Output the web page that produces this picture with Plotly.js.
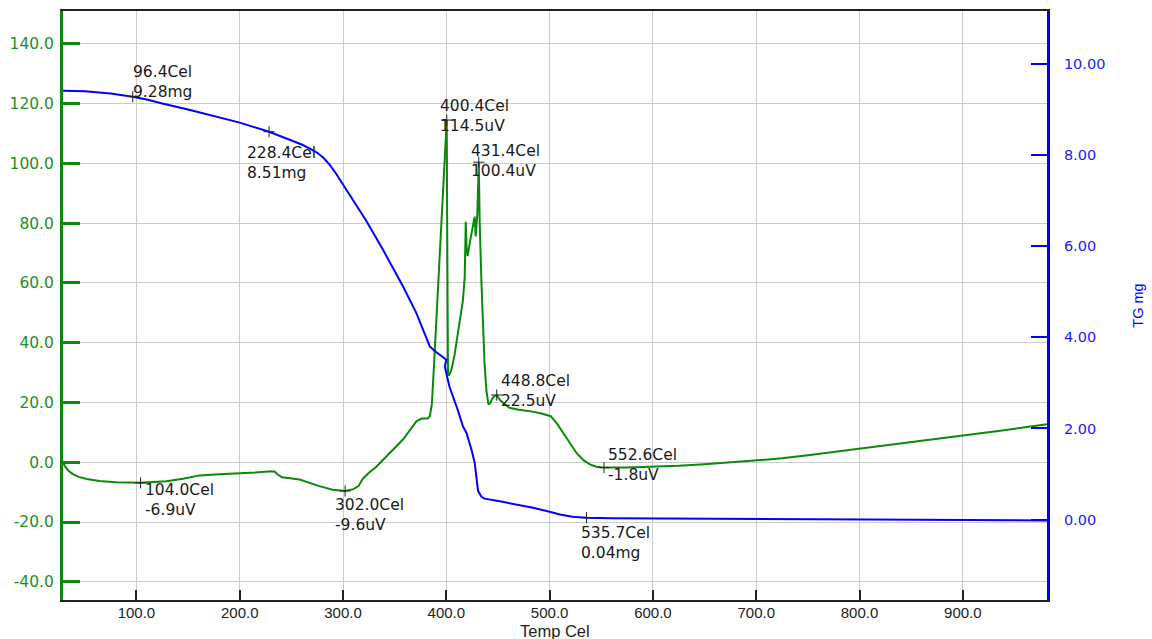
<!DOCTYPE html>
<html>
<head>
<meta charset="utf-8">
<script src="https://cdn.plot.ly/plotly-3.0.1.min.js"></script>
<style>
  html, body { margin: 0; padding: 0; background: #ffffff; }
  #chart { width: 1152px; height: 639px; }
</style>
</head>
<body>
<div id="chart"></div>
<script>
// DTA signal (uV) against furnace temperature (Cel)
const dtaTemp = [28.9, 31, 34, 38, 44, 52, 64, 80, 104.0, 129, 145, 161, 180, 200, 215, 230.7, 234, 237, 241, 258, 277, 290, 302.0, 310, 315, 319, 325, 332, 345, 358, 366, 371, 376, 382, 384, 386, 388, 390, 395, 398, 400.4, 400.8, 401.2, 401.6, 402.5, 405, 408, 411, 416, 417.8, 418.8, 419.6, 420.6, 423, 426, 427.4, 428.4, 429.2, 430, 431.4, 432.3, 434, 435.5, 437, 438.8, 440.8, 442.5, 445.2, 448.8, 452, 455, 461, 470, 481, 492, 501, 507, 513, 520, 526, 533, 539, 545, 552.6, 575, 600, 625, 650, 675, 700, 725, 750, 775, 800, 825, 850, 875, 900, 940, 981.5];
const dtaUV   = [0.0, -1.5, -2.8, -3.9, -4.9, -5.6, -6.3, -6.7, -6.9, -6.4, -5.5, -4.4, -4.0, -3.8, -3.4, -3.0, -3.2, -4.2, -5.0, -5.8, -8.0, -9.2, -9.6, -9.0, -8.0, -5.6, -3.5, -1.6, 3.0, 7.6, 11.3, 13.7, 14.6, 14.6, 15.4, 19.5, 32.0, 46.0, 79.0, 99.0, 114.5, 80.0, 50.0, 29.5, 29.0, 31.0, 36.0, 43.0, 54.0, 62.0, 80.5, 72.0, 69.0, 74.0, 80.0, 82.2, 75.6, 79.0, 83.0, 100.4, 80.0, 60.0, 46.0, 33.0, 24.0, 19.3, 19.8, 21.8, 22.5, 20.8, 19.9, 18.2, 17.6, 17.1, 16.3, 15.4, 13.0, 9.8, 6.0, 3.1, 0.6, -0.7, -1.5, -1.8, -1.8, -1.6, -1.2, -0.7, -0.1, 0.5, 1.3, 2.3, 3.4, 4.5, 5.5, 6.6, 7.7, 8.8, 10.7, 12.7];

// TG mass (mg) against furnace temperature (Cel)
const tgTemp = [28.9, 50, 75, 90, 96.4, 110, 125, 150, 175, 200, 228.4, 250, 260, 268, 275, 281, 287, 293, 300, 310, 322.6, 338.7, 358, 371, 384, 388.8, 394, 400, 398.5, 403, 411, 416, 419.5, 424.3, 427.5, 428.5, 430.7, 434, 437, 451.7, 470, 484, 500, 510, 522, 535.7, 560, 600, 700, 800, 900, 981.5];
const tgMg   = [9.41, 9.40, 9.35, 9.31, 9.28, 9.22, 9.13, 9.00, 8.86, 8.71, 8.51, 8.33, 8.23, 8.14, 8.05, 7.94, 7.79, 7.60, 7.35, 7.01, 6.55, 5.92, 5.12, 4.53, 3.80, 3.70, 3.62, 3.51, 3.36, 2.92, 2.41, 2.05, 1.90, 1.54, 1.24, 1.02, 0.63, 0.50, 0.46, 0.40, 0.32, 0.26, 0.17, 0.11, 0.06, 0.04, 0.03, 0.025, 0.02, 0.0, -0.01, -0.02];

// Picked DTA points
const dtaPickTemp = [104.0, 302.0, 400.4, 431.4, 448.8, 552.6];
const dtaPickUV   = [-6.9, -9.6, 114.5, 100.4, 22.5, -1.8];

// Picked TG points
const tgPickTemp = [96.4, 228.4, 535.7];
const tgPickMg   = [9.28, 8.51, 0.04];

// Axis tick values
const xTicks   = [100, 200, 300, 400, 500, 600, 700, 800, 900];
const dtaTicks = [-40, -20, 0, 20, 40, 60, 80, 100, 120, 140];
const tgTicks  = [0, 2, 4, 6, 8, 10];

// Label placement: pixel offset (dx, dy) of each two-line label's centre from its point
const dtaLabelOffset = [[2.5, 17.5], [-12, 24.5], [-9, -4.5], [-10, -1.5], [2, -4.5], [2.5, -3]];
const tgLabelOffset  = [[-2, -14.5], [-24, 31], [-8, 25.5]];

const GREEN = '#0a8a0a';
const GREEN_TXT = '#1f8f1f';
const BLUE = '#0000ff';
const BLUE_TXT = '#1a1aff';
const LABEL_FONT = { family: 'DejaVu Sans, Verdana, sans-serif', size: 15.5, color: '#1a1a1a' };
const AXIS_FONT = 'Liberation Sans, Arial, sans-serif';

const traces = [
  {
    x: dtaTemp, y: dtaUV, type: 'scatter', mode: 'lines',
    line: { color: GREEN, width: 2 }, yaxis: 'y', hoverinfo: 'skip'
  },
  {
    x: tgTemp, y: tgMg, type: 'scatter', mode: 'lines',
    line: { color: BLUE, width: 2 }, yaxis: 'y2', hoverinfo: 'skip'
  },
  {
    x: dtaPickTemp, y: dtaPickUV, type: 'scatter', mode: 'markers', yaxis: 'y',
    marker: { symbol: 'cross-thin', size: 8, line: { color: '#222', width: 1 } }, hoverinfo: 'skip'
  },
  {
    x: tgPickTemp, y: tgPickMg, type: 'scatter', mode: 'markers', yaxis: 'y2',
    marker: { symbol: 'cross-thin', size: 8, line: { color: '#222', width: 1 } }, hoverinfo: 'skip'
  }
];

const annotations = [];
function addLabel(t, v, unit, digits, yref, off) {
  annotations.push({
    x: t, y: v, xref: 'x', yref: yref,
    text: t.toFixed(1) + 'Cel<br>' + v.toFixed(digits) + unit,
    showarrow: false, align: 'left',
    xanchor: 'left', yanchor: 'middle',
    xshift: off[0], yshift: -off[1],
    font: LABEL_FONT
  });
}
dtaPickTemp.forEach((t, i) => addLabel(t, dtaPickUV[i], 'uV', 1, 'y', dtaLabelOffset[i]));
tgPickTemp.forEach((t, i) => addLabel(t, tgPickMg[i], 'mg', 2, 'y2', tgLabelOffset[i]));

// x-axis title, centred under the plot area
annotations.push({
  x: 0.5, y: 0, xref: 'paper', yref: 'paper', text: 'Temp Cel', showarrow: false,
  xanchor: 'center', yanchor: 'middle', yshift: -31,
  font: { family: AXIS_FONT, size: 16.5, color: '#222' }
});

const layout = {
  width: 1152, height: 639,
  margin: { l: 63, r: 105, t: 11, b: 39 },
  paper_bgcolor: '#ffffff', plot_bgcolor: '#ffffff',
  showlegend: false,
  xaxis: {
    range: [28.9, 981.5],
    tickvals: xTicks, ticktext: xTicks.map(v => v.toFixed(1)),
    ticks: 'inside', ticklen: 10, tickwidth: 2, tickcolor: '#222',
    showline: true, linecolor: '#222', linewidth: 2, mirror: true,
    showgrid: true, gridcolor: '#cccccc', gridwidth: 1, zeroline: false,
    tickfont: { family: AXIS_FONT, size: 15, color: '#222' },
    ticklabelstandoff: -2,
    fixedrange: true
  },
  yaxis: {
    range: [-46.1, 151.0],
    tickvals: dtaTicks, ticktext: dtaTicks.map(v => v.toFixed(1)),
    ticks: 'inside', ticklen: 17, tickwidth: 3, tickcolor: GREEN,
    showline: true, linecolor: GREEN, linewidth: 3,
    showgrid: true, gridcolor: '#cccccc', gridwidth: 1, zeroline: false,
    tickfont: { family: 'DejaVu Sans, Verdana, sans-serif', size: 15.5, color: GREEN_TXT },
    ticklabelstandoff: 3,
    fixedrange: true
  },
  yaxis2: {
    range: [-1.765, 11.16], overlaying: 'y', side: 'right',
    tickvals: tgTicks, ticktext: tgTicks.map(v => v.toFixed(2)),
    ticks: 'inside', ticklen: 16, tickwidth: 2, tickcolor: BLUE,
    showline: true, linecolor: BLUE, linewidth: 3,
    showgrid: false, zeroline: false,
    tickfont: { family: 'DejaVu Sans, Verdana, sans-serif', size: 14.5, color: BLUE_TXT },
    ticklabelstandoff: 11,
    title: { text: 'TG mg', font: { family: AXIS_FONT, size: 14.5, color: BLUE }, standoff: 29 },
    fixedrange: true
  },
  annotations: annotations
};

Plotly.newPlot('chart', traces, layout, { staticPlot: true, displayModeBar: false });
</script>
</body>
</html>
